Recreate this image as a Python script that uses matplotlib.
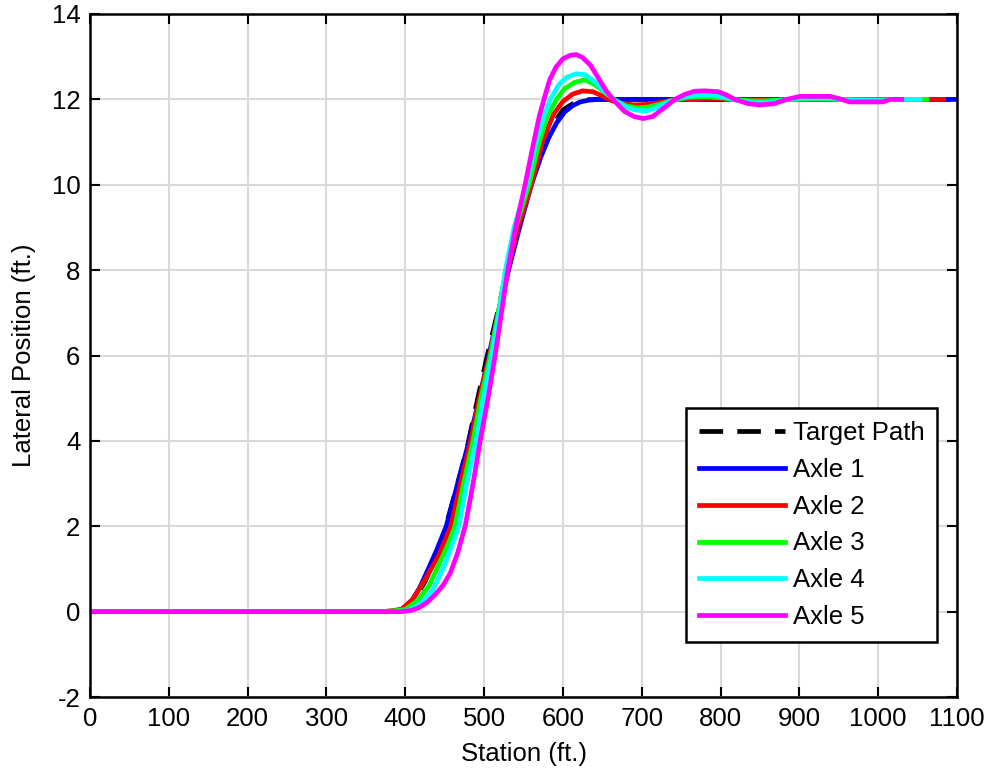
import matplotlib
matplotlib.use('Agg')
import matplotlib.pyplot as plt

plt.rcParams['font.family'] = ['Liberation Sans', 'DejaVu Sans']
plt.rcParams['axes.unicode_minus'] = False

# target path and axle traces (station ft, lateral ft)
target_x = [0, 380, 395, 410, 425, 440, 450, 462, 478, 492, 504, 517, 529, 543, 559, 572, 585, 600, 615, 630, 645, 1100]
target_y = [0, 0, 0.05, 0.25, 0.7, 1.35, 1.9, 2.7, 3.8, 5.0, 6.0, 7.0, 8.0, 9.0, 10.0, 10.8, 11.35, 11.75, 11.93, 11.99, 12.0, 12.0]

axle1_x = [0, 388, 398, 408, 418, 428, 440, 452, 465, 481, 494, 506, 518, 531, 545, 560, 572, 582, 592, 602, 612, 622, 632, 645, 1100]
axle1_y = [0, 0, 0.08, 0.25, 0.55, 0.95, 1.45, 2.0, 2.9, 4.0, 5.0, 6.0, 7.0, 8.0, 9.0, 10.0, 10.65, 11.1, 11.45, 11.7, 11.85, 11.94, 11.98, 12.0, 12.0]

axle2_x = [0, 372, 395, 410, 425, 442, 458, 470, 483, 494, 507, 518, 530, 543, 560, 574, 588, 600, 612, 625, 638, 650, 662, 675, 690, 705, 720, 738, 760, 800, 830, 1083]
axle2_y = [0, 0, 0.05, 0.3, 0.75, 1.3, 2.0, 3.0, 4.0, 5.0, 6.0, 7.0, 8.0, 9.0, 10.0, 11.0, 11.65, 11.95, 12.12, 12.2, 12.18, 12.08, 11.97, 11.9, 11.87, 11.88, 11.92, 11.98, 12.02, 12.02, 11.99, 12.0]

axle3_x = [0, 375, 400, 415, 430, 445, 455, 463, 474, 486, 496, 508, 518, 528, 540, 557, 570, 580, 592, 602, 615, 628, 640, 652, 666, 680, 695, 708, 722, 740, 760, 785, 805, 825, 850, 880, 920, 1000, 1062]
axle3_y = [0, 0, 0.05, 0.25, 0.6, 1.2, 1.6, 2.0, 3.0, 4.0, 5.0, 6.0, 7.0, 8.0, 9.0, 10.0, 11.0, 11.6, 12.0, 12.25, 12.4, 12.46, 12.35, 12.18, 11.98, 11.85, 11.8, 11.82, 11.88, 11.98, 12.05, 12.06, 12.03, 11.98, 11.96, 11.99, 12.01, 11.99, 12.0]

axle4_x = [0, 385, 405, 420, 435, 450, 460, 468, 478, 490, 499, 510, 519, 527, 538, 554, 566, 576, 584, 595, 605, 617, 628, 640, 652, 666, 680, 692, 705, 718, 735, 750, 770, 790, 805, 820, 840, 860, 880, 900, 940, 960, 1005, 1020, 1053]
axle4_y = [0, 0, 0.03, 0.2, 0.5, 1.1, 1.6, 2.0, 3.0, 4.0, 5.0, 6.0, 7.0, 8.0, 9.0, 10.0, 11.0, 11.6, 12.0, 12.35, 12.52, 12.6, 12.58, 12.42, 12.2, 11.98, 11.82, 11.75, 11.73, 11.8, 11.95, 12.05, 12.1, 12.1, 12.05, 11.98, 11.92, 11.92, 11.98, 12.03, 12.03, 11.98, 11.97, 12.0, 12.0]

axle5_x = [0, 395, 408, 418, 428, 438, 448, 457, 466, 476, 486, 495, 505, 514, 522, 530, 540, 552, 563, 570, 576, 583, 591, 600, 609, 617, 625, 635, 645, 655, 666, 678, 690, 702, 714, 727, 742, 755, 767, 780, 797, 808, 818, 835, 850, 868, 884, 901, 939, 950, 964, 1006, 1015, 1030]
axle5_y = [0, 0, 0.03, 0.1, 0.22, 0.4, 0.62, 0.9, 1.35, 2.0, 3.0, 4.0, 5.0, 6.0, 7.0, 8.0, 9.0, 10.0, 11.0, 11.6, 12.0, 12.45, 12.75, 12.95, 13.03, 13.05, 12.98, 12.8, 12.5, 12.2, 11.95, 11.72, 11.6, 11.55, 11.6, 11.78, 12.0, 12.12, 12.19, 12.2, 12.18, 12.1, 12.0, 11.9, 11.87, 11.9, 12.0, 12.07, 12.07, 12.02, 11.94, 11.94, 12.0, 12.0]

xticks = list(range(0, 1101, 100))
yticks = list(range(-2, 15, 2))

fig = plt.figure(figsize=(9.87, 7.69), dpi=100)
ax = fig.add_axes([0.0912, 0.0936, 0.8784, 0.8882])

lw = 3.4
ax.plot(target_x, target_y, color='k', lw=lw, dashes=(5, 3), label='Target Path')
ax.plot(axle1_x, axle1_y, color='#0000ff', lw=lw, label='Axle 1')
ax.plot(axle2_x, axle2_y, color='#ff0000', lw=lw, label='Axle 2')
ax.plot(axle3_x, axle3_y, color='#00ff00', lw=lw, label='Axle 3')
ax.plot(axle4_x, axle4_y, color='#00ffff', lw=lw, label='Axle 4')
ax.plot(axle5_x, axle5_y, color='#ff00ff', lw=lw, label='Axle 5')

ax.set_xlim(0, 1100)
ax.set_ylim(-2, 14)
ax.set_xticks(xticks)
ax.set_yticks(yticks)
ax.grid(True, color='#d9d9d9', lw=1.5)
ax.set_axisbelow(True)
ax.tick_params(direction='in', length=7, width=1.5, top=True, right=True,
               labelsize=18.5, pad=7)
for s in ax.spines.values():
    s.set_linewidth(1.8)

ax.set_xlabel('Station (ft.)', fontsize=18.5, labelpad=8)
ax.set_ylabel('Lateral Position (ft.)', fontsize=18.5, labelpad=11)

leg = ax.legend(loc='lower right', bbox_to_anchor=(0.977, 0.0805), fontsize=18.5,
                fancybox=False, framealpha=1, edgecolor='k', handlelength=3.35,
                handletextpad=0.3, labelspacing=0.5, borderpad=0.5,
                borderaxespad=0)
leg.get_frame().set_linewidth(1.8)

fig.savefig('out.png', dpi=100)
